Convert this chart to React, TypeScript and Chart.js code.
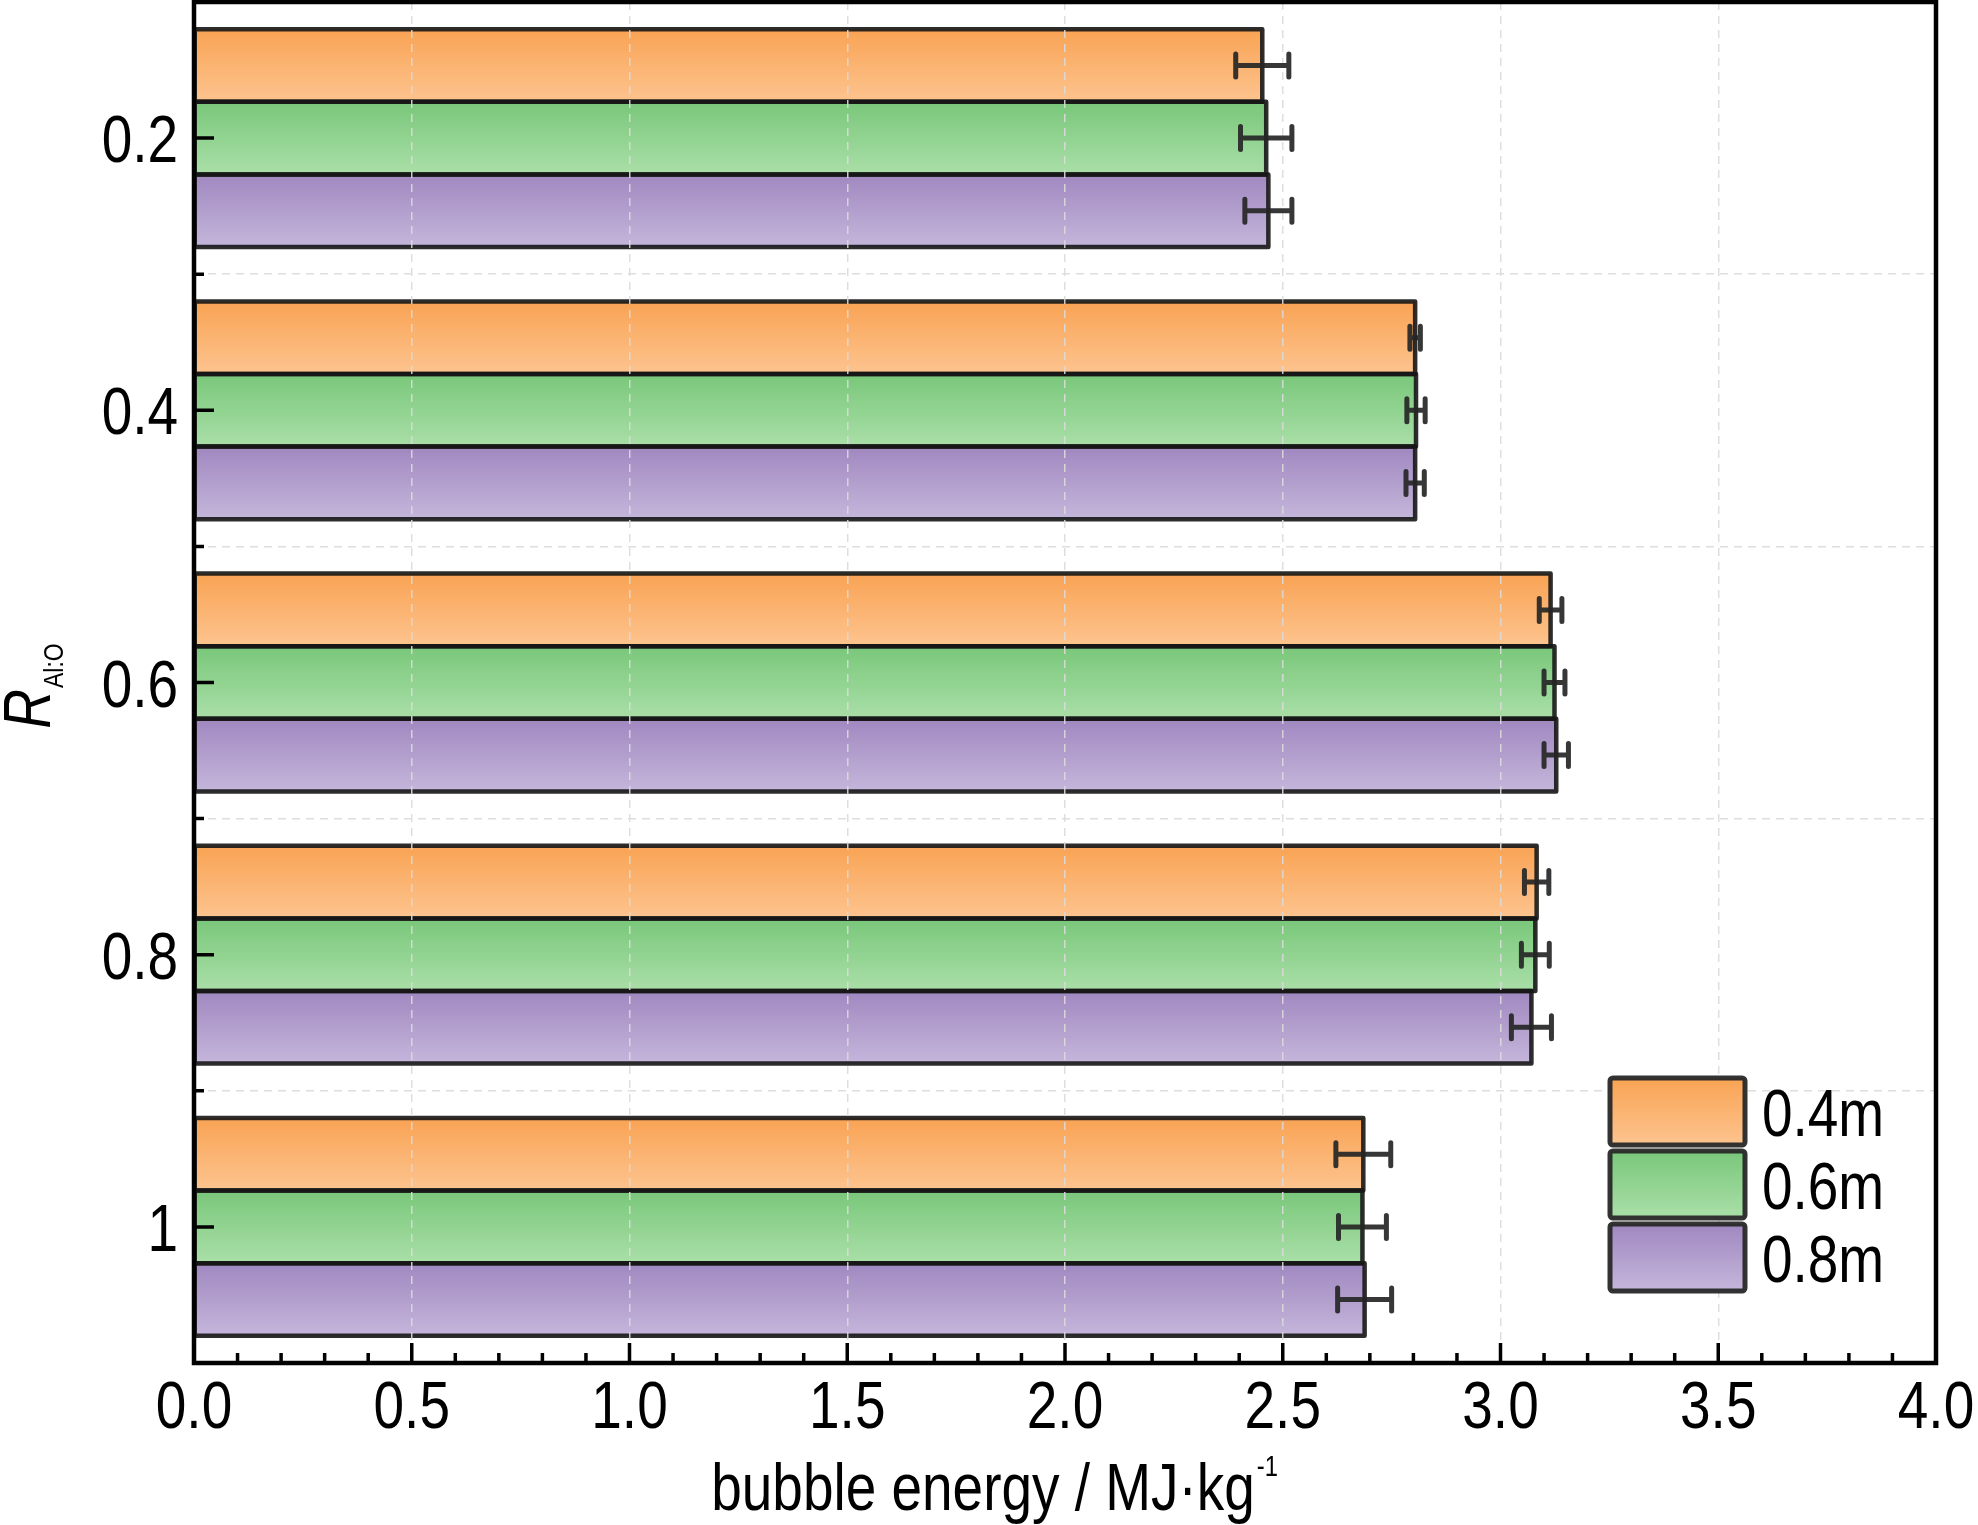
import { useEffect, useRef } from "react";
import { Chart, registerables } from "chart.js";

Chart.register(...registerables);

// Arial-metric face, squeezed horizontally to get the narrow look of the original
const FONT = "'Liberation Sans', Arimo, Arial, sans-serif";
const SQUEEZE = 0.82;

const CATEGORIES = ["0.2", "0.4", "0.6", "0.8", "1"];
const SERIES = ["0.4m", "0.6m", "0.8m"];
const ENERGY_04 = [2.453, 2.804, 3.115, 3.083, 2.685];
const ENERGY_06 = [2.462, 2.806, 3.124, 3.08, 2.683];
const ENERGY_08 = [2.467, 2.804, 3.128, 3.071, 2.688];
const ERR_04 = [0.061, 0.012, 0.026, 0.028, 0.063];
const ERR_06 = [0.059, 0.021, 0.024, 0.032, 0.055];
const ERR_08 = [0.054, 0.021, 0.028, 0.046, 0.062];
const X_TICKS = [0, 0.5, 1, 1.5, 2, 2.5, 3, 3.5, 4];

const VALUES = [ENERGY_04, ENERGY_06, ENERGY_08];
const ERRORS = [ERR_04, ERR_06, ERR_08];
const TOP_COLORS = ["#f9a354", "#79c77a", "#a088c0"];
const BOTTOM_COLORS = ["#fdc48f", "#aadfa8", "#c5b6db"];
const EDGE = "rgba(22,22,22,0.9)";

function gradient(ctx: CanvasRenderingContext2D, i: number, top: number, bottom: number) {
  const g = ctx.createLinearGradient(0, top, 0, bottom);
  g.addColorStop(0, TOP_COLORS[i]);
  g.addColorStop(1, BOTTOM_COLORS[i]);
  return g;
}

function textWidth(ctx: CanvasRenderingContext2D, text: string, size: number, italic = false) {
  ctx.font = `${italic ? "italic " : ""}${size}px ${FONT}`;
  return ctx.measureText(text).width * SQUEEZE;
}

// draws text (left, centre or right aligned) on an alphabetic baseline
function narrowText(
  ctx: CanvasRenderingContext2D,
  text: string,
  x: number,
  y: number,
  size: number,
  align: "left" | "center" | "right" = "left",
  italic = false,
) {
  ctx.save();
  ctx.font = `${italic ? "italic " : ""}${size}px ${FONT}`;
  ctx.textAlign = align;
  ctx.textBaseline = "alphabetic";
  ctx.fillStyle = "#000";
  ctx.translate(x, y);
  ctx.scale(SQUEEZE, 1);
  ctx.fillText(text, 0, 0);
  ctx.restore();
}

// fill each bar with a vertical gradient and give it a single centred outline
const barStyle = {
  id: "barStyle",
  beforeDatasetsDraw(chart: any) {
    const ctx = chart.ctx;
    chart.data.datasets.forEach((_: any, di: number) => {
      chart.getDatasetMeta(di).data.forEach((bar: any) => {
        const g = gradient(ctx, di, bar.y - bar.height / 2, bar.y + bar.height / 2);
        bar.options = Object.assign({}, bar.options, { backgroundColor: g });
      });
    });
  },
  afterDatasetsDraw(chart: any) {
    const ctx = chart.ctx;
    ctx.save();
    ctx.strokeStyle = EDGE;
    ctx.lineWidth = 4.5;
    ctx.lineJoin = "round";
    chart.data.datasets.forEach((_: any, di: number) => {
      chart.getDatasetMeta(di).data.forEach((bar: any) => {
        const top = bar.y - bar.height / 2;
        ctx.strokeRect(bar.base, top, bar.x - bar.base, bar.height);
      });
    });
    ctx.restore();
  },
};

const decorations = {
  id: "decorations",
  afterDraw(chart: any) {
    const { ctx, chartArea: a, scales } = chart;
    const xs = scales.x;
    const ys = scales.y;
    ctx.save();

    // error bars
    ctx.strokeStyle = "rgba(38,38,38,0.92)";
    ctx.lineCap = "round";
    ctx.lineWidth = 5;
    VALUES.forEach((vals, di) => {
      const meta = chart.getDatasetMeta(di);
      vals.forEach((v, i) => {
        const y = meta.data[i].y;
        const x1 = xs.getPixelForValue(v - ERRORS[di][i]);
        const x2 = xs.getPixelForValue(v + ERRORS[di][i]);
        ctx.beginPath();
        ctx.moveTo(x1, y);
        ctx.lineTo(x2, y);
        ctx.moveTo(x1, y - 11.5);
        ctx.lineTo(x1, y + 11.5);
        ctx.moveTo(x2, y - 11.5);
        ctx.lineTo(x2, y + 11.5);
        ctx.stroke();
      });
    });

    // ticks pointing inwards
    ctx.strokeStyle = "#000";
    ctx.lineCap = "butt";
    ctx.lineWidth = 3.5;
    ctx.beginPath();
    for (let k = 0; k <= 40; k++) {
      const x = xs.getPixelForValue(k / 10);
      const len = k % 5 === 0 ? 20 : 10;
      ctx.moveTo(x, a.bottom);
      ctx.lineTo(x, a.bottom - len);
    }
    CATEGORIES.forEach((_, i) => {
      const y = ys.getPixelForValue(i);
      ctx.moveTo(a.left, y);
      ctx.lineTo(a.left + 20, y);
      if (i > 0) {
        const yb = ys.getPixelForValue(i - 0.5);
        ctx.moveTo(a.left, yb);
        ctx.lineTo(a.left + 10, yb);
      }
    });
    ctx.stroke();

    // frame
    ctx.lineWidth = 4.5;
    ctx.strokeRect(a.left, a.top, a.right - a.left, a.bottom - a.top);

    // tick labels
    X_TICKS.forEach((v) => {
      narrowText(ctx, v.toFixed(1), xs.getPixelForValue(v), a.bottom + 65, 67, "center");
    });
    CATEGORIES.forEach((c, i) => {
      narrowText(ctx, c, a.left - 16, ys.getPixelForValue(i) + 24, 67, "right");
    });

    // legend
    const bx = a.right - 326;
    SERIES.forEach((label, i) => {
      const top = a.bottom - 285 + i * 73;
      const h = 67;
      ctx.fillStyle = gradient(ctx, i, top, top + h);
      ctx.beginPath();
      ctx.roundRect(bx, top, 135, h, 3);
      ctx.fill();
      ctx.strokeStyle = "rgba(40,40,40,0.95)";
      ctx.lineWidth = 5;
      ctx.stroke();
      narrowText(ctx, label, bx + 152, top + h / 2 + 24, 67, "left");
    });

    // x title with superscript
    const main = "bubble energy / MJ·kg";
    const sup = "-1";
    const wMain = textWidth(ctx, main, 67);
    const wSup = textWidth(ctx, sup, 29);
    const cx = a.left + (a.right - a.left) * 0.459;
    const sx = cx - (wMain + wSup) / 2;
    narrowText(ctx, main, sx, 1510, 67, "left");
    narrowText(ctx, sup, sx + wMain + 2, 1476, 29, "left");

    // y title: italic R with subscript Al:O
    const cy = (a.top + a.bottom) / 2 + 4;
    ctx.translate(50, cy);
    ctx.rotate(-Math.PI / 2);
    const wR = textWidth(ctx, "R", 67, true);
    const wSub = textWidth(ctx, "Al:O", 28);
    const start = -(wR + wSub) / 2;
    narrowText(ctx, "R", start, 0, 67, "left", true);
    narrowText(ctx, "Al:O", start + wR + 1, 13, 28, "left");

    ctx.restore();
  },
};

export default function App() {
  const canvasRef = useRef<HTMLCanvasElement>(null);

  useEffect(() => {
    document.body.style.margin = "0";
    document.body.style.overflow = "hidden";
    const canvas = canvasRef.current;
    if (!canvas) return;
    const noPadding = (s: any) => {
      s.paddingLeft = 0;
      s.paddingRight = 0;
      s.paddingTop = 0;
      s.paddingBottom = 0;
    };
    const chart = new Chart(canvas, {
      type: "bar",
      data: {
        labels: CATEGORIES,
        datasets: SERIES.map((label, i) => ({
          label,
          data: VALUES[i],
          backgroundColor: () => TOP_COLORS[i],
          borderWidth: 0,
          categoryPercentage: 0.8,
          barPercentage: 1.0,
        })),
      },
      options: {
        indexAxis: "y",
        responsive: true,
        maintainAspectRatio: false,
        animation: false,
        devicePixelRatio: 1,
        events: [],
        layout: { padding: { top: 2, right: 42, left: 0, bottom: 0 } },
        plugins: { legend: { display: false }, tooltip: { enabled: false } },
        scales: {
          x: {
            type: "linear",
            min: 0,
            max: 4,
            afterFit: (s: any) => {
              s.height = 162;
              noPadding(s);
            },
            afterBuildTicks: (s: any) => {
              s.ticks = X_TICKS.map((v) => ({ value: v }));
            },
            ticks: { display: false },
            grid: {
              drawTicks: false,
              z: 1,
              lineWidth: 1.5,
              color: (c: any) =>
                c.tick && c.tick.value > 0 && c.tick.value < 4 ? "rgba(218,218,218,0.9)" : "rgba(0,0,0,0)",
            },
            border: { display: false, dash: [8, 6] },
          },
          y: {
            type: "category",
            offset: true,
            afterFit: (s: any) => {
              s.width = 194;
              noPadding(s);
            },
            ticks: { display: false },
            grid: {
              offset: true,
              drawTicks: false,
              z: 1,
              lineWidth: 1.5,
              color: "rgba(218,218,218,0.9)",
            },
            border: { display: false, dash: [8, 6] },
          },
        },
      },
      plugins: [barStyle, decorations],
    });
    return () => chart.destroy();
  }, []);

  return (
    <div style={{ position: "relative", width: 1978, height: 1525 }}>
      <canvas ref={canvasRef} />
    </div>
  );
}
